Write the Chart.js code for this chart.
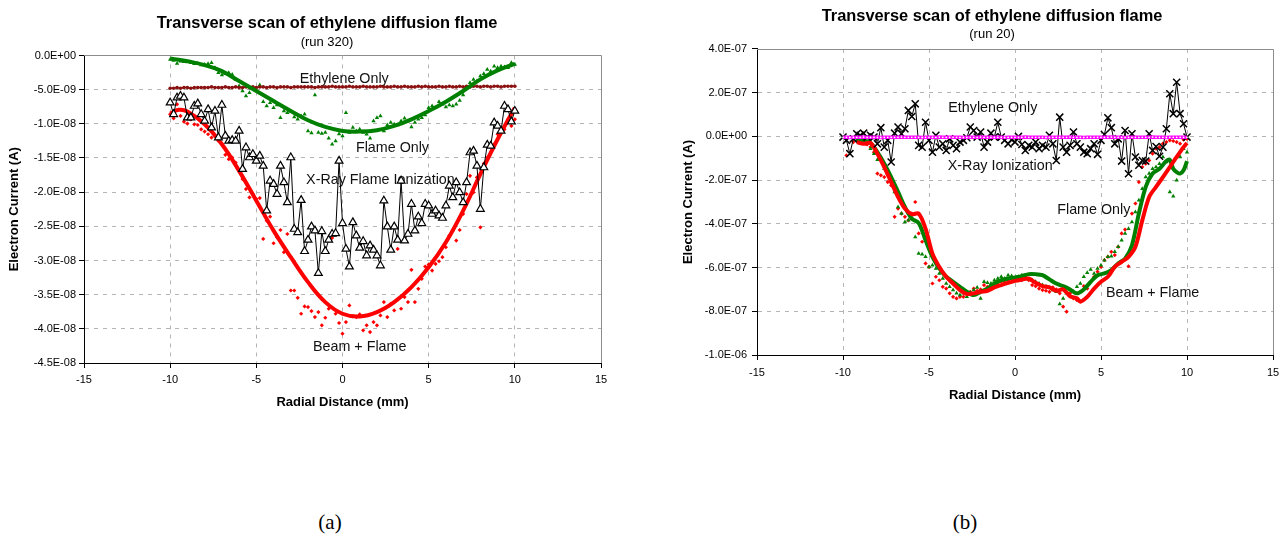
<!DOCTYPE html>
<html>
<head>
<meta charset="utf-8">
<script src="https://cdn.jsdelivr.net/npm/chart.js@4.4.1/dist/chart.umd.min.js"></script>
<style>
  html, body { margin: 0; padding: 0; background: #fff; overflow: hidden; width: 1279px; height: 540px; }
  .box { position: absolute; top: 0; }
  .cap { position: absolute; top: 509px; width: 60px; text-align: center; line-height: 26px;
         font-family: "Liberation Serif", "Times New Roman", serif; font-size: 21px; color: #000; }
</style>
</head>
<body>
<div class="box" style="left:0"><canvas id="chartA" width="654" height="420"></canvas></div>
<div class="box" style="left:675px"><canvas id="chartB" width="634" height="420"></canvas></div>
<div class="cap" style="left:300px">(a)</div>
<div class="cap" style="left:935px">(b)</div>

<script>
// shared sampling positions (mm)
const radial = [
  -10, -9.8, -9.6, -9.4, -9.2, -9, -8.8, -8.6, -8.4, -8.2,
  -8, -7.8, -7.6, -7.4, -7.2, -7, -6.8, -6.6, -6.4, -6.2,
  -6, -5.8, -5.6, -5.4, -5.2, -5, -4.8, -4.6, -4.4, -4.2,
  -4, -3.8, -3.6, -3.4, -3.2, -3, -2.8, -2.6, -2.4, -2.2,
  -2, -1.8, -1.6, -1.4, -1.2, -1, -0.8, -0.6, -0.4, -0.2,
  0, 0.2, 0.4, 0.6, 0.8, 1, 1.2, 1.4, 1.6, 1.8,
  2, 2.2, 2.4, 2.6, 2.8, 3, 3.2, 3.4, 3.6, 3.8,
  4, 4.2, 4.4, 4.6, 4.8, 5, 5.2, 5.4, 5.6, 5.8,
  6, 6.2, 6.4, 6.6, 6.8, 7, 7.2, 7.4, 7.6, 7.8,
  8, 8.2, 8.4, 8.6, 8.8, 9, 9.2, 9.4, 9.6, 9.8,
  10
];

// ---- run 320, values in 1e-9 A ----
const xrayA = [
  -6.91, -8.61, -6.18, -5.93, -6.18, -9.10, -9.10, -7.39, -7.05, -8.61,
  -9.58, -7.88, -10.55, -8.12, -12.01, -7.25, -11.77, -12.50, -12.40, -12.50,
  -11.04, -16.63, -13.47, -14.93, -14.45, -15.42, -14.69, -16.15, -22.71, -18.34,
  -18.82, -20.28, -16.15, -18.58, -21.50, -14.93, -25.39, -25.88, -21.16, -28.65,
  -26.99, -25.05, -25.63, -31.86, -25.73, -28.65, -26.99, -26.12, -26.02, -15.42,
  -24.56, -28.31, -30.89, -24.42, -26.36, -28.16, -27.19, -29.28, -27.82, -28.45,
  -29.28, -30.74, -21.25, -25.05, -28.45, -25.05, -26.99, -18.34, -27.09, -26.12,
  -21.74, -25.63, -23.59, -24.56, -21.74, -21.98, -23.20, -22.71, -23.44, -23.78,
  -21.98, -19.07, -20.77, -18.58, -20.04, -21.50, -18.58, -14.20, -13.96, -16.15,
  -22.47, -16.39, -13.08, -13.23, -9.82, -10.31, -11.04, -7.39, -7.88, -9.68,
  -8.12
];
const ethyleneA = [
  -4.8, -4.8, -4.7, -4.8, -4.7, -4.7, -4.8, -4.7, -4.7, -4.7,
  -4.7, -4.7, -4.6, -4.7, -4.7, -4.7, -4.6, -4.7, -4.7, -4.6,
  -4.7, -4.7, -4.6, -4.7, -4.6, -4.7, -4.6, -4.6, -4.7, -4.6,
  -4.6, -4.7, -4.6, -4.6, -4.6, -4.7, -4.6, -4.6, -4.6, -4.6,
  -4.6, -4.6, -4.7, -4.6, -4.6, -4.6, -4.6, -4.5, -4.6, -4.6,
  -4.6, -4.6, -4.5, -4.6, -4.6, -4.6, -4.5, -4.6, -4.6, -4.6,
  -4.6, -4.5, -4.6, -4.6, -4.6, -4.5, -4.6, -4.6, -4.5, -4.6,
  -4.6, -4.6, -4.5, -4.6, -4.5, -4.6, -4.6, -4.6, -4.5, -4.6,
  -4.6, -4.5, -4.6, -4.6, -4.5, -4.6, -4.5, -4.6, -4.5, -4.5,
  -4.6, -4.5, -4.5, -4.6, -4.5, -4.5, -4.6, -4.5, -4.5, -4.5,
  -4.5
];
const flamePtsA = [
  -0.58, -0.73, -1.17, -0.83, -0.92, -0.97, -1.07, -1.22, -1.12, -1.41,
  -1.31, -1.22, -1.07, -1.80, -2.53, -2.87, -2.68, -2.53, -2.77, -3.50,
  -4.47, -5.20, -5.93, -5.45, -4.82, -5.11, -4.33, -6.76, -7.39, -6.91,
  -7.64, -7.25, -9.10, -8.12, -8.37, -8.20, -9.00, -9.34, -8.85, -8.61,
  -11.04, -11.33, -5.79, -11.28, -11.43, -11.28, -12.11, -12.99, -12.50, -11.50,
  -11.77, -8.37, -11.28, -10.55, -11.04, -10.80, -11.28, -11.53, -12.11, -9.58,
  -9.10, -8.85, -11.04, -10.17, -9.82, -10.07, -10.17, -9.58, -9.19, -9.58,
  -10.46, -9.82, -9.34, -9.10, -8.71, -7.64, -7.39, -7.64, -6.76, -7.15,
  -7.54, -7.25, -7.39, -7.15, -6.57, -5.79, -4.72, -3.99, -3.50, -3.75,
  -3.02, -2.68, -2.04, -2.29, -1.56, -1.80, -1.56, -1.70, -1.80, -1.07,
  -1.31
];
const beamPtsA = [
  -8.61, -9.19, -7.15, -8.85, -9.68, -9.97, -9.34, -10.07, -10.17, -10.80,
  -11.14, -11.53, -12.01, -11.77, -12.50, -12.89, -14.54, -15.18, -14.93, -15.66,
  -16.88, -18.09, -19.55, -20.77, -20.28, -21.01, -20.87, -26.85, -24.17, -23.59,
  -27.48, -26.61, -25.54, -28.79, -26.12, -34.39, -34.39, -35.46, -37.79, -36.72,
  -36.82, -37.40, -38.28, -37.55, -39.49, -38.38, -37.06, -26.70, -37.79, -39.15,
  -40.71, -39.01, -36.58, -38.18, -38.28, -37.89, -40.22, -39.49, -40.47, -39.01,
  -39.49, -38.04, -36.09, -38.28, -36.33, -37.31, -28.31, -37.06, -35.36, -36.09,
  -31.37, -36.09, -34.14, -32.68, -30.89, -30.59, -31.47, -30.50, -30.11, -29.52,
  -28.06, -26.36, -25.63, -27.09, -25.54, -23.20, -20.28, -17.61, -20.04, -17.85,
  -25.15, -15.81, -14.93, -13.47, -12.99, -11.53, -10.55, -10.80, -9.34, -10.31,
  -9.34
];
// fitted trend curves, run 320
const trendXA = [-10, -9.5, -9, -8, -7, -6, -5, -4, -3, -2, -1, 0, 1, 2, 3, 4, 5, 6, 7, 8, 9, 10];
const flameTrendA = [-0.44, -0.63, -0.83, -1.41, -2.29, -3.75, -5.20, -6.66, -8.12, -9.48, -10.46,
  -11.04, -11.14, -10.94, -10.31, -9.34, -8.12, -6.76, -5.20, -3.50, -2.19, -1.22];
const beamTrendA = [-8.51, -7.95, -8.20, -10.07, -12.99, -16.88, -21.25, -25.63, -29.52, -33.17, -36.09,
  -37.79, -38.18, -37.55, -36.09, -33.90, -30.98, -27.33, -22.71, -17.36, -12.26, -7.64];

// ---- run 20, values in 1e-7 A ----
const xrayB = [
  -0.03, -0.18, -0.79, -0.11, 0.12, 0.05, 0.15, -0.03, 0.05, -0.03,
  -0.34, 0.40, -0.49, -0.18, -1.17, 0.15, 0.43, 0.12, 0.35, 1.19,
  0.91, 1.49, -0.41, -0.49, 0.65, -0.18, -0.72, 0.05, -0.49, -0.34,
  -0.64, -0.11, -0.41, -0.56, -0.26, -0.18, -0.06, 0.43, 0.27, -0.03,
  0.20, -0.49, -0.26, 0.15, -0.03, 0.65, -0.03, -0.18, -0.34, -0.15,
  -0.26, 0.00, -0.37, -0.64, -0.41, -0.49, -0.26, -0.56, -0.41, -0.49,
  0.05, -0.34, -1.10, 0.88, -0.49, -0.72, -0.41, 0.20, -0.34, -0.49,
  -0.72, -0.79, -0.56, -0.34, -0.82, -0.18, 0.09, 0.85, 0.40, -0.34,
  -0.11, -1.13, 0.27, -1.71, 0.12, -0.94, -1.32, -1.10, -1.13, 0.12,
  -0.64, -0.46, -0.91, -0.49, 0.35, 1.95, 1.04, 2.48, 1.04, 0.58,
  -0.03
];
const ethyleneB = [
  -0.04, -0.04, -0.05, -0.04, -0.04, -0.04, -0.03, -0.04, -0.04, -0.04,
  -0.04, -0.05, -0.04, -0.04, -0.04, -0.04, -0.04, -0.03, -0.04, -0.04,
  -0.04, -0.04, -0.04, -0.05, -0.04, -0.04, -0.04, -0.04, -0.03, -0.04,
  -0.04, -0.04, -0.04, -0.04, -0.04, -0.05, -0.04, -0.04, -0.04, -0.04,
  -0.03, -0.04, -0.04, -0.04, -0.04, -0.04, -0.04, -0.05, -0.04, -0.04,
  -0.04, -0.04, -0.04, -0.03, -0.04, -0.04, -0.04, -0.04, -0.04, -0.05,
  -0.04, -0.04, -0.04, -0.04, -0.04, -0.04, -0.03, -0.04, -0.04, -0.04,
  -0.05, -0.04, -0.04, -0.04, -0.04, -0.04, -0.04, -0.04, -0.03, -0.04,
  -0.04, -0.04, -0.05, -0.04, -0.04, -0.04, -0.04, -0.04, -0.04, -0.04,
  -0.03, -0.04, -0.04, -0.04, -0.05, -0.04, -0.04, -0.04, -0.04, -0.04,
  -0.04
];
const flamePtsB = [
  null, null, null, null, -0.15, -0.11, -0.18, -0.26, -0.56, -0.79,
  -1.07, -0.94, -1.48, -1.70, -2.01, -2.54, -3.23, -3.53, -3.91, -3.84,
  -3.76, -4.60, -5.36, -5.39, -5.51, -5.97, -5.89, -6.04, -6.27, -6.50,
  -6.73, -6.88, -7.03, -7.18, -7.26, -7.18, -7.34, -7.15, -7.03, -6.91,
  -7.41, -6.65, -6.70, -6.73, -6.58, -6.50, -6.42, -6.50, -6.35, -6.39,
  -6.50, -6.42, -6.35, -6.45, -6.54, -6.58, -6.65, -6.73, -6.80, -6.85,
  -6.91, -7.03, -7.11, -7.67, -7.41, -7.18, -7.03, -7.11, -6.88, -6.73,
  -6.42, -6.24, -6.09, -6.27, -6.04, -5.89, -5.66, -5.51, -5.48, -5.28,
  -5.05, -4.75, -4.44, -4.22, -3.91, -3.46, -2.92, -2.39, -1.86, -1.70,
  -1.48, -1.40, -1.25, -0.94, -1.17, -2.54, -2.74, -2.01, -0.94, -0.56,
  -0.72
];
const beamPtsB = [
  null, -0.87, null, -0.26, null, -0.18, -0.26, -0.37, -0.49, -0.72,
  -1.70, -1.78, -1.86, -2.09, -2.24, -3.68, -3.30, -3.53, -3.68, -3.84,
  -3.53, -3.00, -4.44, -4.82, -5.81, -5.97, -6.73, -6.42, -6.58, -6.88,
  -6.96, -7.18, -7.34, -7.41, -7.34, -7.34, -7.18, -7.11, -6.96, -7.06,
  -7.00, -6.80, -6.88, -6.96, -6.80, -6.76, -6.65, -6.65, -6.58, -6.50,
  -6.54, -6.45, -6.58, -6.42, -6.58, -6.80, -6.85, -6.96, -7.03, -7.06,
  -7.11, -6.91, -7.00, -7.18, -7.79, -8.02, -7.18, -7.41, -7.49, -7.11,
  -6.85, -6.96, -6.65, -6.42, -6.19, -5.97, -5.66, -5.51, -5.28, -5.43,
  -5.05, -4.44, -4.26, -5.94, -3.53, -3.07, -2.09, -1.40, -1.25, -1.10,
  -0.79, -0.56, -0.49, -0.33, -0.26, -0.18, -0.21, -0.26, -0.33, -0.15,
  -0.11
];
// moving-average trend curves, run 20
const flameTrendXB = [-9.2, -8.8, -8.4, -8, -7.6, -7.2, -6.8, -6.4, -6, -5.6, -5.2, -4.8, -4.4, -4, -3.6,
  -3.2, -2.8, -2.4, -2, -1.6, -1.2, -0.8, -0.4, 0, 0.4, 0.8, 1.2, 1.6, 2, 2.4, 2.8, 3.2, 3.6, 4, 4.4, 4.8,
  5.2, 5.6, 6, 6.4, 6.8, 7.2, 7.6, 8, 8.4, 8.8, 9, 9.2, 9.4, 9.6, 9.8, 10];
const flameTrendB = [-0.15, -0.18, -0.30, -0.72, -1.25, -1.86, -2.54, -3.23, -3.76, -3.96, -4.75, -5.51,
  -6.04, -6.42, -6.65, -6.88, -7.11, -7.26, -7.11, -6.96, -6.73, -6.58, -6.50, -6.45, -6.39, -6.30, -6.30,
  -6.35, -6.54, -6.73, -6.85, -7.00, -7.18, -7.00, -6.65, -6.35, -6.27, -6.12, -5.81, -5.59, -4.98, -3.53,
  -2.31, -1.70, -1.48, -1.13, -1.07, -1.48, -1.63, -1.70, -1.55, -1.13];
const beamTrendXB = [-9.2, -8.8, -8.4, -8, -7.6, -7.2, -6.8, -6.4, -6, -5.6, -5.2, -4.8, -4.4, -4, -3.6,
  -3.2, -2.8, -2.4, -2, -1.6, -1.2, -0.8, -0.4, 0, 0.4, 0.8, 1.2, 1.6, 2, 2.4, 2.8, 3.2, 3.6, 3.8, 4.2, 4.6,
  5, 5.4, 5.8, 6.2, 6.6, 7, 7.4, 7.8, 8.2, 8.6, 9, 9.4, 9.8, 10];
const beamTrendB = [-0.26, -0.34, -0.30, -0.79, -1.40, -2.09, -2.77, -3.30, -3.56, -3.53, -4.22, -5.36,
  -5.97, -6.42, -6.73, -7.03, -7.21, -7.18, -7.11, -7.06, -6.91, -6.80, -6.70, -6.61, -6.55, -6.50, -6.70,
  -6.85, -6.91, -7.06, -7.00, -7.31, -7.41, -7.56, -7.34, -6.96, -6.65, -6.42, -5.97, -5.74, -5.51, -5.05,
  -3.84, -2.77, -2.31, -1.86, -1.40, -0.94, -0.49, -0.30];

const FONT = '"Liberation Sans", Arial, sans-serif';
const GREEN = '#008000', RED = '#ff0000', MAROON = '#8b1010', MAGENTA = '#ff00ff';

function pts(xs, ys, unit) {
  return xs.map((x, i) => ({ x: x, y: ys[i] == null ? null : ys[i] * unit }));
}

function sciLabel(v) {
  if (Math.abs(v) < 1e-15) return '0.0E+00';
  let e = Math.floor(Math.log10(Math.abs(v)));
  let m = v / Math.pow(10, e);
  if (Math.abs(Math.abs(m) - 10) < 1e-6) { m /= 10; e += 1; }
  return m.toFixed(1) + 'E' + (e < 0 ? '-' : '+') + String(Math.abs(e)).padStart(2, '0');
}

// gray frame on top/right and the text labels inside the plot
const notesPlugin = {
  id: 'notes',
  beforeDatasetsDraw(chart, args, opts) {
    const { ctx, chartArea: a, scales: { x, y } } = chart;
    ctx.save();
    ctx.strokeStyle = '#8c8c8c';
    ctx.lineWidth = 1;
    ctx.beginPath();
    ctx.moveTo(a.left, Math.round(a.top) + 0.5);
    ctx.lineTo(Math.round(a.right) + 0.5, Math.round(a.top) + 0.5);
    ctx.lineTo(Math.round(a.right) + 0.5, a.bottom);
    ctx.stroke();
    ctx.font = '14.3px ' + FONT;
    ctx.fillStyle = '#111';
    ctx.textAlign = 'center';
    ctx.textBaseline = 'middle';
    opts.items.forEach(n => ctx.fillText(n.text, x.getPixelForValue(n.x), y.getPixelForValue(n.y * opts.unit)));
    ctx.restore();
  }
};

function makeOptions(cfg) {
  const hideEnds = (ctx) => {
    const n = ctx.scale.ticks.length;
    return (ctx.index === 0 || ctx.index === n - 1) ? 'rgba(0,0,0,0)' : '#b4b4b4';
  };
  return {
    responsive: false,
    animation: false,
    events: [],
    layout: { padding: 0 },
    plugins: {
      legend: { display: false },
      tooltip: { enabled: false },
      title: {
        display: true, text: 'Transverse scan of ethylene diffusion flame', color: '#000',
        font: { family: FONT, size: 16.4, weight: 'bold' }, padding: cfg.titlePad
      },
      subtitle: {
        display: true, text: cfg.subtitle, color: '#000',
        font: { family: FONT, size: 13 }, padding: cfg.subPad
      },
      notes: { items: cfg.notes, unit: cfg.unit }
    },
    scales: {
      x: {
        type: 'linear', min: -15, max: 15,
        afterFit: s => { s.height = cfg.xHeight; },
        ticks: { stepSize: 5, color: '#000', padding: cfg.xTickPad, font: { family: FONT, size: 11 },
                 callback: v => String(v) },
        grid: { color: hideEnds, tickColor: '#000', tickLength: 5, tickBorderDash: [] },
        border: { color: '#000', width: 1, dash: [4, 5] },
        title: { display: true, text: 'Radial Distance (mm)', color: '#000',
                 font: { family: FONT, size: 13, weight: 'bold' }, padding: { top: 0, bottom: cfg.xTitlePad } }
      },
      y: {
        type: 'linear', min: cfg.yMin, max: cfg.yMax,
        afterFit: s => { s.width = cfg.yWidth; },
        ticks: { stepSize: cfg.yStep, color: '#000', padding: cfg.yTickPad, font: { family: FONT, size: 11 },
                 callback: v => sciLabel(v) },
        grid: { color: hideEnds, tickColor: '#000', tickLength: 5, tickBorderDash: [] },
        border: { color: '#000', width: 1, dash: [4, 5] },
        title: { display: true, text: 'Electron Current (A)', color: '#000',
                 font: { family: FONT, size: 13, weight: 'bold' }, padding: { top: cfg.yTitlePad, bottom: 0 } }
      },
      // empty spacer on the right so the title stays centred on the whole canvas
      spacer: {
        type: 'linear', position: 'right', display: true,
        afterFit: s => { s.width = cfg.padRight; },
        ticks: { display: false }, grid: { display: false, drawTicks: false }, border: { display: false }
      }
    }
  };
}

const UNIT_A = 1e-9, UNIT_B = 1e-7;

new Chart(document.getElementById('chartA'), {
  type: 'scatter',
  data: {
    datasets: [
      { label: 'X-Ray Flame Ionization', data: pts(radial, xrayA, UNIT_A), showLine: true, order: 0,
        borderColor: '#000', borderWidth: 1, pointStyle: 'triangle', pointRadius: 4.5,
        pointBackgroundColor: '#fff', pointBorderColor: '#000', pointBorderWidth: 1.2 },
      { label: 'Beam + Flame trend', data: pts(trendXA, beamTrendA, UNIT_A), showLine: true, order: 1,
        borderColor: RED, borderWidth: 4, pointRadius: 0, tension: 0.4 },
      { label: 'Flame Only trend', data: pts(trendXA, flameTrendA, UNIT_A), showLine: true, order: 1,
        borderColor: GREEN, borderWidth: 4, pointRadius: 0, tension: 0.4 },
      { label: 'Ethylene Only', data: pts(radial, ethyleneA, UNIT_A), showLine: true, order: 2,
        borderColor: MAROON, borderWidth: 1.5, pointRadius: 1.8, pointBackgroundColor: MAROON,
        pointBorderColor: MAROON, pointBorderWidth: 0 },
      { label: 'Flame Only', data: pts(radial, flamePtsA, UNIT_A), order: 3,
        pointStyle: 'triangle', pointRadius: 2.5, backgroundColor: GREEN, borderColor: GREEN, borderWidth: 0 },
      { label: 'Beam + Flame', data: pts(radial, beamPtsA, UNIT_A), order: 3,
        pointStyle: 'rectRot', pointRadius: 2.1, backgroundColor: RED, borderColor: RED, borderWidth: 0 }
    ]
  },
  options: makeOptions({
    subtitle: '(run 320)', padRight: 53,
    titlePad: { top: 13.4, bottom: 0 }, subPad: { top: 1.6, bottom: 5.2 },
    xHeight: 57, xTickPad: 5.4, xTitlePad: 10.2,
    yWidth: 84, yTickPad: 3, yTitlePad: 6.2,
    yMin: -4.5e-8, yMax: 0, yStep: 5e-9, unit: UNIT_A,
    notes: [
      { text: 'Ethylene Only', x: 0.1, y: -3.4 },
      { text: 'Flame Only', x: 2.9, y: -13.6 },
      { text: 'X-Ray Flame Ionization', x: 2.2, y: -18.2 },
      { text: 'Beam + Flame', x: 1.0, y: -42.7 }
    ]
  }),
  plugins: [notesPlugin]
});

new Chart(document.getElementById('chartB'), {
  type: 'scatter',
  data: {
    datasets: [
      { label: 'Ethylene Only', data: pts(radial, ethyleneB, UNIT_B), showLine: true, order: 0,
        borderColor: MAGENTA, borderWidth: 3.5, pointRadius: 0.9, pointBackgroundColor: '#fff',
        pointBorderWidth: 0 },
      { label: 'X-Ray Ionization', data: pts(radial, xrayB, UNIT_B), showLine: true, order: 1,
        borderColor: '#000', borderWidth: 1, pointStyle: 'crossRot', pointRadius: 5,
        pointBorderColor: '#000', pointBorderWidth: 1.5 },
      { label: 'Beam + Flame trend', data: pts(beamTrendXB, beamTrendB, UNIT_B), showLine: true, order: 2,
        borderColor: RED, borderWidth: 4, pointRadius: 0, tension: 0.3 },
      { label: 'Flame Only trend', data: pts(flameTrendXB, flameTrendB, UNIT_B), showLine: true, order: 3,
        borderColor: GREEN, borderWidth: 4, pointRadius: 0, tension: 0.3 },
      { label: 'Flame Only', data: pts(radial, flamePtsB, UNIT_B), order: 4,
        pointStyle: 'triangle', pointRadius: 2.5, backgroundColor: GREEN, borderColor: GREEN, borderWidth: 0 },
      { label: 'Beam + Flame', data: pts(radial, beamPtsB, UNIT_B), order: 4,
        pointStyle: 'rectRot', pointRadius: 2.1, backgroundColor: RED, borderColor: RED, borderWidth: 0 }
    ]
  },
  options: makeOptions({
    subtitle: '(run 20)', padRight: 36,
    titlePad: { top: 7.1, bottom: 0 }, subPad: { top: 0.2, bottom: 6.4 },
    xHeight: 65, xTickPad: 6, xTitlePad: 17.2,
    yWidth: 82, yTickPad: 5, yTitlePad: 5.7,
    yMin: -1e-6, yMax: 4e-7, yStep: 2e-7, unit: UNIT_B,
    notes: [
      { text: 'Ethylene Only', x: -1.29, y: 1.31 },
      { text: 'X-Ray Ionization', x: -0.86, y: -1.34 },
      { text: 'Flame Only', x: 4.58, y: -3.35 },
      { text: 'Beam + Flame', x: 8.0, y: -7.18 }
    ]
  }),
  plugins: [notesPlugin]
});
</script>
</body>
</html>
